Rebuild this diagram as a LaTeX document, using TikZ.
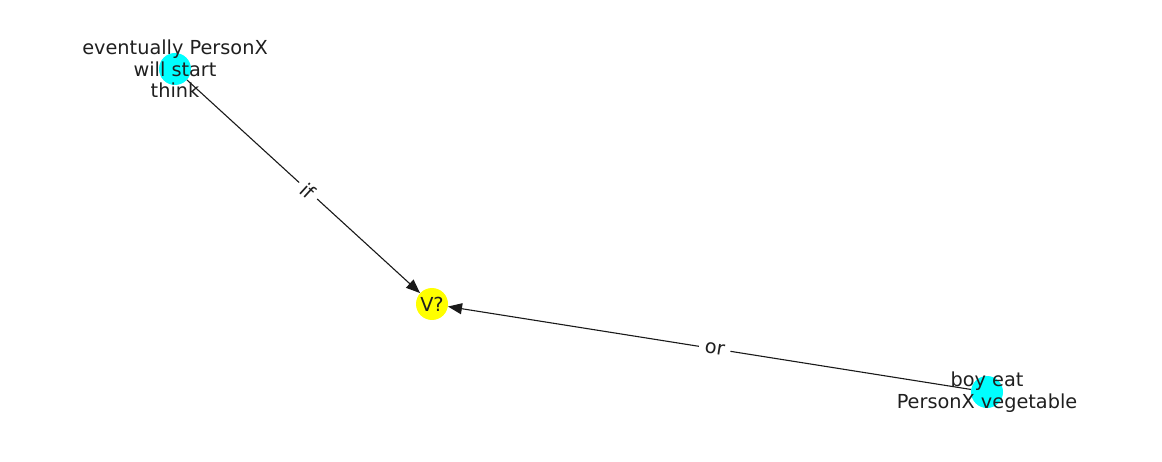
\documentclass[tikz,border=0pt]{standalone}
\usepackage{fontspec}
\setmainfont{DejaVu Sans}
\usetikzlibrary{arrows.meta}
\definecolor{tuerkis}{RGB}{0,255,255}
\definecolor{gelb}{RGB}{255,255,0}
\tikzset{
	punkt/.style={circle, inner sep=0pt, minimum size=32pt},
	beschr/.style={align=center, text=black!88, font=\fontsize{19.3}{21.5}\selectfont},
	kante/.style={-{Triangle[length=14pt,width=11pt]}, line width=1.1pt, black!90},
	kantenlabel/.style={fill=white, sloped, inner sep=6pt, text=black!88, font=\fontsize{19.3}{21.5}\selectfont}
}
\begin{document}
	\begin{tikzpicture}[x=1pt, y=-1pt]
		\useasboundingbox (0,0) rectangle (1162,462);
		% Knoten
		\foreach \name/\x/\y/\farbe in {
			denk/175/69/tuerkis,
			frage/432/304/gelb,
			junge/987/392/tuerkis} {
			\node[punkt, fill=\farbe] (\name) at (\x,\y) {};
		}
		% Kanten
		\draw[kante] (denk) -- (frage) node[kantenlabel, pos=0.52] {if};
		\draw[kante] (junge) -- (frage) node[kantenlabel, pos=0.49] {or};
		% Beschriftungen
		\node[beschr] (denktext) at (denk) {eventually PersonX\\will start\\think};
		\node[beschr] (fragetext) at (frage) {V?};
		\node[beschr] (jungetext) at (junge) {boy eat\\PersonX vegetable};
	\end{tikzpicture}
\end{document}
